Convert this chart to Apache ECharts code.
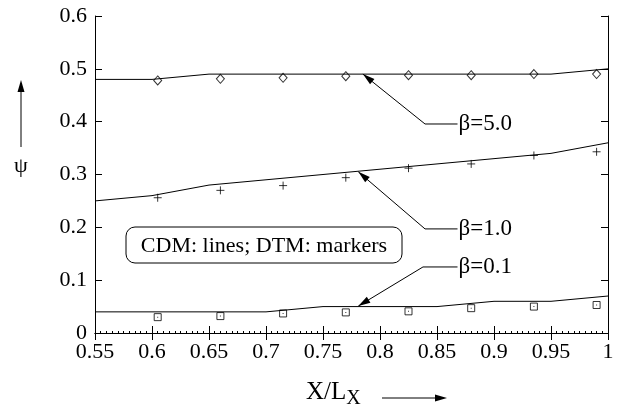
<!DOCTYPE html>
<html>
<head>
<meta charset="utf-8">
<script src="https://cdn.jsdelivr.net/npm/echarts@6/dist/echarts.min.js"></script>
<style>html,body{margin:0;padding:0;background:#fff;}#c{width:644px;height:415px;}</style>
</head>
<body>
<div id="c"></div>
<script>
// ---- data ----
var lineX = [0.55, 0.6, 0.65, 0.7, 0.75, 0.8, 0.85, 0.9, 0.95, 1.0];
var cdmBeta5 = [0.48, 0.48, 0.49, 0.49, 0.49, 0.49, 0.49, 0.49, 0.49, 0.50];
var cdmBeta1 = [0.25, 0.26, 0.28, 0.29, 0.30, 0.31, 0.32, 0.33, 0.34, 0.36];
var cdmBeta01 = [0.04, 0.04, 0.04, 0.04, 0.05, 0.05, 0.05, 0.06, 0.06, 0.07];
var markerX = [0.605, 0.66, 0.715, 0.77, 0.825, 0.88, 0.935, 0.99];
var dtmBeta5 = [0.478, 0.481, 0.483, 0.486, 0.488, 0.488, 0.490, 0.490];
var dtmBeta1 = [0.256, 0.270, 0.279, 0.294, 0.312, 0.320, 0.336, 0.343];
var dtmBeta01 = [0.030, 0.032, 0.037, 0.039, 0.041, 0.047, 0.050, 0.053];
var xTicks = ['0.55','0.6','0.65','0.7','0.75','0.8','0.85','0.9','0.95','1'];
var yTicks = ['0','0.1','0.2','0.3','0.4','0.5','0.6'];
// annotation labels: text, label anchor [x,y], elbow x, arrow tip [x,y]
var annLabels = ['β=5.0', 'β=1.0', 'β=0.1'];
var annAnchor = [[0.868, 0.3956], [0.868, 0.197], [0.868, 0.125]];
var annElbowX = [0.8395, 0.8395, 0.8377];
var annTip = [[0.785, 0.490], [0.781, 0.305], [0.781, 0.051]];
var boxText = 'CDM: lines; DTM: markers';

function pairs(xs, ys) { return xs.map(function (x, i) { return [x, ys[i]]; }); }

var FONT = '"Liberation Serif", "Times New Roman", serif';
var chart = echarts.init(document.getElementById('c'), null, {renderer: 'canvas'});

var axBase = {
  type: 'value',
  axisLine: {show: true, lineStyle: {color: '#000', width: 1}},
  splitLine: {show: false}
};

var option = {
  backgroundColor: '#fff',
  animation: false,
  grid: {left: 95, right: 36, top: 16, bottom: 82, containLabel: false},
  xAxis: [
    Object.assign({}, axBase, {
      min: 0.55, max: 1, interval: 0.05, position: 'bottom',
      axisTick: {show: true, inside: true, length: 7, lineStyle: {color: '#000'}},
      minorTick: {show: true, splitNumber: 10, length: 2, lineStyle: {color: '#000'}},
      axisLabel: {color: '#000', fontFamily: FONT, fontSize: 22, margin: 8,
        formatter: function (v) { var i = Math.round((v - 0.55) / 0.05); return xTicks[i] !== undefined ? xTicks[i] : ''; }}
    }),
    Object.assign({}, axBase, {
      min: 0.55, max: 1, interval: 0.05, position: 'top',
      axisTick: {show: true, inside: true, length: 7, lineStyle: {color: '#000'}},
      axisLabel: {show: false}
    })
  ],
  yAxis: [
    Object.assign({}, axBase, {
      min: 0, max: 0.6, interval: 0.1, position: 'left',
      axisTick: {show: true, inside: true, length: 7, lineStyle: {color: '#000'}},
      axisLabel: {color: '#000', fontFamily: FONT, fontSize: 22, margin: 8,
        formatter: function (v) { var i = Math.round(v / 0.1); return yTicks[i] !== undefined ? yTicks[i] : ''; }}
    }),
    Object.assign({}, axBase, {
      min: 0, max: 0.6, interval: 0.1, position: 'right',
      axisTick: {show: true, inside: true, length: 7, lineStyle: {color: '#000'}},
      axisLabel: {show: false}
    })
  ],
  series: [
    {type: 'line', data: pairs(lineX, cdmBeta5), showSymbol: false, lineStyle: {color: '#000', width: 1}, silent: true},
    {type: 'line', data: pairs(lineX, cdmBeta1), showSymbol: false, lineStyle: {color: '#000', width: 1}, silent: true},
    {type: 'line', data: pairs(lineX, cdmBeta01), showSymbol: false, lineStyle: {color: '#000', width: 1}, silent: true},
    {type: 'scatter', data: pairs(markerX, dtmBeta5), symbol: 'diamond', symbolSize: [8, 9],
      itemStyle: {color: '#fff', borderColor: '#000', borderWidth: 1}},
    {type: 'scatter', data: pairs(markerX, dtmBeta1), symbol: 'path://M5,0V10M0,5H10', symbolSize: 8,
      itemStyle: {color: 'none', borderColor: '#000', borderWidth: 1}},
    {type: 'scatter', data: pairs(markerX, dtmBeta01), symbol: 'rect', symbolSize: 7,
      itemStyle: {color: '#fff', borderColor: '#000', borderWidth: 1}},
    {type: 'scatter', data: pairs(markerX, dtmBeta01), symbol: 'rect', symbolSize: 1,
      itemStyle: {color: '#000'}, z: 3}
  ]
};
chart.setOption(option);

function px(p) { return chart.convertToPixel({gridIndex: 0}, p); }
var g = [];
for (var i = 0; i < annLabels.length; i++) {
  var a = px(annAnchor[i]);
  var e = px([annElbowX[i], annAnchor[i][1]]);
  var t = px(annTip[i]);
  g.push({type: 'polyline', shape: {points: [[a[0], a[1]], [e[0], e[1]], [t[0], t[1]]]},
    style: {stroke: '#000', lineWidth: 1, fill: null}, z: 10});
  var dx = e[0] - t[0], dy = e[1] - t[1], L = Math.sqrt(dx * dx + dy * dy);
  var ux = dx / L, uy = dy / L, hl = 12, hw = 3.5;
  var bx = t[0] + ux * hl, by = t[1] + uy * hl;
  g.push({type: 'polygon', shape: {points: [[t[0], t[1]], [bx - uy * hw, by + ux * hw], [bx + uy * hw, by - ux * hw]]},
    style: {fill: '#000'}, z: 10});
  g.push({type: 'text', x: a[0] + 1, y: a[1], style: {text: annLabels[i], font: '23px ' + FONT,
    fill: '#000', align: 'left', verticalAlign: 'middle'}, z: 10});
}
// legend note box
g.push({type: 'rect', shape: {x: 126, y: 227, width: 276, height: 36, r: 9},
  style: {fill: '#fff', stroke: '#000', lineWidth: 1}, z: 10});
g.push({type: 'text', x: 264, y: 246, style: {text: boxText, font: '22px ' + FONT, fill: '#000',
  align: 'center', verticalAlign: 'middle'}, z: 11});
// y-axis name with arrow
g.push({type: 'line', shape: {x1: 21, y1: 147, x2: 21, y2: 90}, style: {stroke: '#000', lineWidth: 1}});
g.push({type: 'polygon', shape: {points: [[21, 80], [17.5, 92], [24.5, 92]]}, style: {fill: '#000'}});
g.push({type: 'text', x: 21, y: 166, style: {text: 'ψ', font: '22px ' + FONT, fill: '#000',
  align: 'center', verticalAlign: 'middle'}});
// x-axis name with arrow
g.push({type: 'text', x: 306, y: 392, style: {
  text: 'X/L{s|X}', font: '25px ' + FONT, fill: '#000', align: 'left', verticalAlign: 'middle',
  rich: {s: {fontFamily: 'Liberation Serif', fontSize: 20, padding: [13, 0, 0, 0]}}}});
g.push({type: 'line', shape: {x1: 382, y1: 398, x2: 437, y2: 398}, style: {stroke: '#000', lineWidth: 1}});
g.push({type: 'polygon', shape: {points: [[447, 398], [435, 394.5], [435, 401.5]]}, style: {fill: '#000'}});
chart.setOption({graphic: g});
</script>
</body>
</html>
